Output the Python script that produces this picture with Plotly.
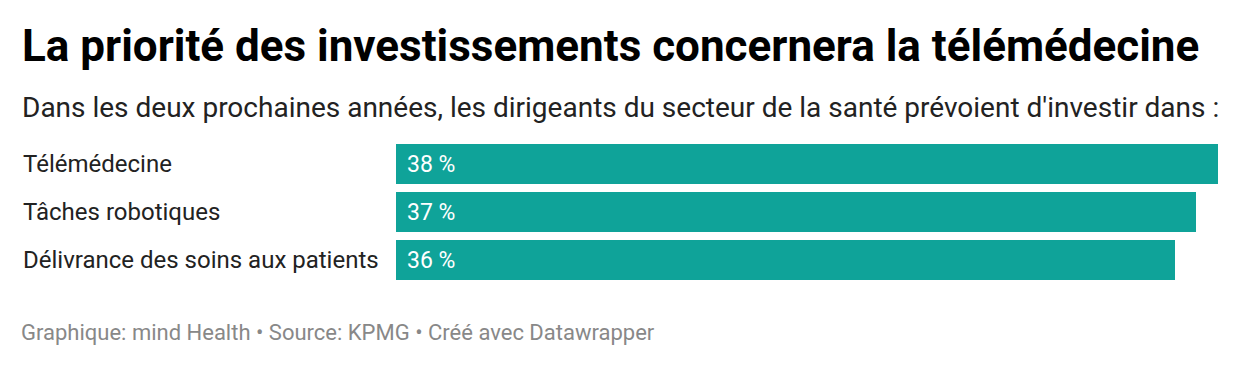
import plotly.graph_objects as go

categories = ["Télémédecine", "Tâches robotiques", "Délivrance des soins aux patients"]
values = [38, 37, 36]
value_labels = ["38 %", "37 %", "36 %"]

title = "La priorité des investissements concernera la télémédecine"
subtitle = "Dans les deux prochaines années, les dirigeants du secteur de la santé prévoient d'investir dans :"
footer = "Graphique: mind Health • Source: KPMG • Créé avec Datawrapper"

W, H = 1240, 366
bar_color = "#0fa399"
font = "Roboto"

fig = go.Figure()
fig.add_trace(go.Bar(
    x=values, y=categories, orientation="h",
    marker=dict(color=bar_color, line=dict(width=0)),
    width=40 / 48, hoverinfo="skip",
))

annotations = []
for c, v, lab in zip(categories, values, value_labels):
    annotations.append(dict(x=21 / W, xref="paper", y=c, yref="y", text=c, showarrow=False,
                            xanchor="left", yanchor="middle",
                            font=dict(family=font, size=24, color="#222222")))
    annotations.append(dict(x=0, xref="x", y=c, yref="y", text=lab, showarrow=False,
                            xanchor="left", yanchor="middle", xshift=9,
                            font=dict(family=font, size=23, color="#ffffff")))

annotations.append(dict(x=20 / W, xref="paper", y=1 - 46 / H, yref="paper", text="<b>" + title + "</b>",
                        showarrow=False, xanchor="left", yanchor="middle",
                        font=dict(family=font, size=44, color="#000000")))
annotations.append(dict(x=20 / W, xref="paper", y=1 - 107 / H, yref="paper", text=subtitle,
                        showarrow=False, xanchor="left", yanchor="middle",
                        font=dict(family=font, size=28, color="#222222")))
annotations.append(dict(x=19 / W, xref="paper", y=1 - 332 / H, yref="paper", text=footer,
                        showarrow=False, xanchor="left", yanchor="middle",
                        font=dict(family=font, size=22, color="#888888")))

fig.update_layout(
    width=W, height=H,
    margin=dict(l=0, r=0, t=0, b=0),
    paper_bgcolor="white", plot_bgcolor="white",
    showlegend=False,
    xaxis=dict(domain=[396 / W, 1218 / W], range=[0, 38], visible=False, fixedrange=True),
    yaxis=dict(domain=[(H - 284) / H, (H - 140) / H], range=[2.5, -0.5], visible=False,
               categoryorder="array", categoryarray=categories, fixedrange=True),
    annotations=annotations,
    bargap=0,
)

fig.write_html("out.html", config={"displayModeBar": False},
               post_script="document.body.style.margin='0';document.body.style.padding='0';")
